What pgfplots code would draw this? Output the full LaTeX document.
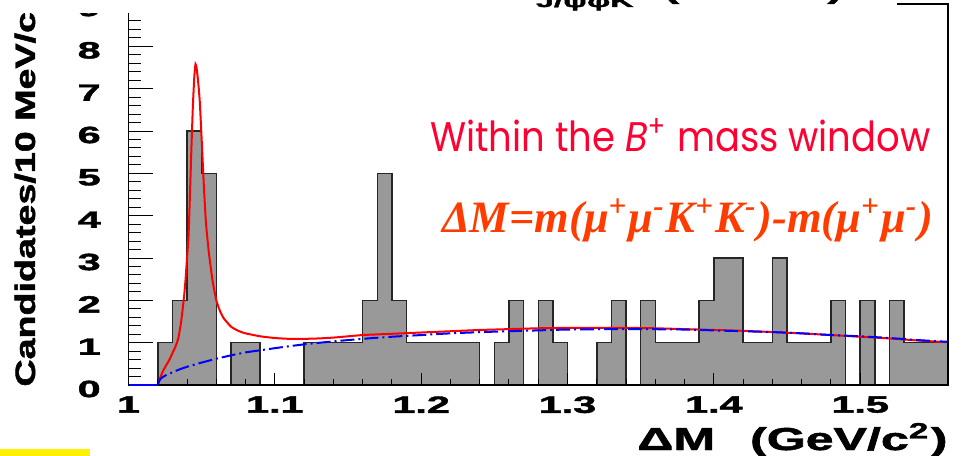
\documentclass[border=0pt]{standalone}
\usepackage{pgfplots}
\pgfplotsset{compat=1.18}
\usepackage{fontspec}
\setmainfont{Liberation Sans}
\newfontfamily\hv{Liberation Sans Bold}[FakeBold=1.5]
\newfontfamily\poppins{Poppins}
\newfontfamily\libserif{Liberation Serif}
\usepackage{graphicx}
\definecolor{histgray}{RGB}{153,153,153}
\definecolor{txtred}{RGB}{255,0,50}
\definecolor{txtorange}{RGB}{255,60,0}
\begin{document}
\begin{tikzpicture}
% ---------- plots ----------
\begin{axis}[
  name=pl, scale only axis, width=409.75pt, height=190.5pt,
  xmin=1, xmax=1.56, ymin=0, ymax=9, hide axis, clip=false]
\addplot[const plot, fill=histgray, draw=black!85, line width=0.75pt] coordinates {
(1.02,1)(1.03,2)(1.04,6)(1.05,5)(1.06,0)(1.07,1)(1.08,1)(1.09,0)(1.10,0)(1.11,0)
(1.12,1)(1.13,1)(1.14,1)(1.15,1)(1.16,2)(1.17,5)(1.18,2)(1.19,1)(1.20,1)(1.21,1)
(1.22,1)(1.23,1)(1.24,0)(1.25,1)(1.26,2)(1.27,0)(1.28,2)(1.29,1)(1.30,0)(1.31,0)
(1.32,1)(1.33,2)(1.34,0)(1.35,2)(1.36,1)(1.37,1)(1.38,1)(1.39,2)(1.40,3)(1.41,3)
(1.42,1)(1.43,1)(1.44,3)(1.45,1)(1.46,1)(1.47,1)(1.48,2)(1.49,0)(1.50,2)(1.51,0)
(1.52,2)(1.53,1)(1.54,1)(1.55,1)(1.56,1)} \closedcycle;
\addplot[red, line width=1pt, smooth, tension=0.3] coordinates {
(1.020,0.00)(1.022,0.20)(1.024,0.36)(1.026,0.48)(1.028,0.60)(1.030,0.75)
(1.032,0.90)(1.034,1.10)(1.036,1.50)(1.038,2.10)(1.039,2.50)(1.040,3.00)
(1.041,3.50)(1.042,4.50)(1.043,5.60)(1.044,6.60)(1.045,7.30)(1.0458,7.58)
(1.0465,7.50)(1.0475,7.20)(1.0487,6.70)(1.050,5.80)(1.0515,4.70)(1.053,3.80)
(1.055,3.10)(1.0575,2.45)(1.060,2.00)(1.0625,1.75)(1.065,1.58)(1.070,1.38)
(1.075,1.28)(1.080,1.22)(1.090,1.15)(1.100,1.11)(1.110,1.09)(1.120,1.09)
(1.130,1.10)(1.140,1.12)(1.150,1.15)(1.160,1.18)(1.180,1.21)(1.200,1.24)
(1.220,1.27)(1.240,1.30)(1.260,1.32)(1.280,1.34)(1.300,1.35)(1.320,1.35)
(1.340,1.35)(1.360,1.34)(1.380,1.32)(1.400,1.30)(1.420,1.28)(1.440,1.25)
(1.460,1.22)(1.480,1.18)(1.500,1.14)(1.520,1.10)(1.540,1.05)(1.560,1.01)};
\addplot[blue, line width=1pt, smooth, dash pattern=on 7pt off 2pt on 1pt off 2pt] coordinates {
(1.020,0)(1.021,0.10)(1.022,0.15)(1.025,0.22)(1.03,0.30)(1.035,0.37)(1.04,0.43)
(1.05,0.53)(1.06,0.62)(1.07,0.70)(1.08,0.77)(1.09,0.82)(1.10,0.87)(1.12,0.96)
(1.14,1.03)(1.16,1.09)(1.18,1.14)(1.20,1.18)(1.22,1.22)(1.25,1.26)(1.28,1.29)
(1.30,1.31)(1.33,1.32)(1.35,1.32)(1.38,1.31)(1.40,1.29)(1.42,1.27)(1.44,1.25)
(1.46,1.22)(1.48,1.18)(1.50,1.15)(1.52,1.11)(1.54,1.06)(1.56,1.02)};
\end{axis}
% ---------- frame, ticks ----------
\begin{axis}[
  name=ax, scale only axis, width=409.75pt, height=190.5pt,
  xmin=1, xmax=1.56, ymin=0, ymax=9, clip=false,
  tick pos=left,
  axis line style={line width=0.75pt, draw=black},
  xtick={1,1.1,1.2,1.3,1.4,1.5},
  xticklabels={1,1.1,1.2,1.3,1.4,1.5},
  ytick={0,1,2,3,4,5,6,7,8,9},
  yticklabels={0,1,2,3,4,5,6,7,8,9},
  minor x tick num=4, minor y tick num=4,
  xtick style={line width=0.5pt, black, /pgfplots/major tick length=6pt, /pgfplots/minor tick length=3pt},
  ytick style={line width=0.5pt, black, /pgfplots/major tick length=12pt, /pgfplots/minor tick length=6pt},
  ticklabel style={font=\fontsize{11.8pt}{11.8pt}\hv},
  xticklabel style={xscale=1.75, inner sep=0pt, anchor=north, yshift=-5.5pt},
  yticklabel style={xscale=1.75, inner sep=0pt, anchor=east, xshift=-7.75pt, yshift=-2pt},
]
\addplot[blue, line width=1pt] coordinates {(1.0,0)(1.02,0)};
\end{axis}
% ---------- texts ----------
\node[rotate=90, anchor=base west, inner sep=0pt] at ([xshift=-46.75pt,yshift=-1pt]ax.south west)
  {\scalebox{1.345}[1]{\fontsize{14pt}{14pt}\hv Candidates/10 MeV/c\textsuperscript{2}}};
\fill[white] ([xshift=-64.25pt,yshift=185.75pt]ax.south west) rectangle ([xshift=384.25pt,yshift=205pt]ax.south west);
\node[anchor=base west, inner sep=0pt] at ([xshift=183.25pt,yshift=193pt]ax.south west)
  {\scalebox{1.9}[1]{\fontsize{12pt}{12pt}\hv m\raisebox{-4pt}{\fontsize{8.5pt}{8.5pt}\selectfont J/ψφK}\hspace{8pt}(GeV/c\textsuperscript{2})}};
\node[anchor=base west, inner sep=0pt, text=txtred] at ([xshift=150.75pt,yshift=116.5pt]ax.south west)
  {\resizebox{250pt}{16.5pt}{\poppins Within the \textit{B}\textsuperscript{+} mass window}};
\node[anchor=base west, inner sep=0pt, text=txtorange] at ([xshift=156.6pt,yshift=76pt]ax.south west)
  {\resizebox{245.5pt}{17pt}{\libserif\bfseries\itshape ΔM=m(μ\textsuperscript{+}μ\textsuperscript{-}K\textsuperscript{+}K\textsuperscript{-})-m(μ\textsuperscript{+}μ\textsuperscript{-})}};
\node[anchor=base west, inner sep=0pt] at ([xshift=254.25pt,yshift=-32.5pt]ax.south west)
  {\resizebox{155pt}{13.5pt}{\hv ΔM\hspace{7pt}(GeV/c\textsuperscript{2})}};
\fill[yellow] ([xshift=-64.25pt,yshift=-32pt]ax.south west) rectangle ([xshift=-19.25pt,yshift=-40pt]ax.south west);
\pgfresetboundingbox
\useasboundingbox ([xshift=-64.25pt,yshift=-35pt]ax.south west) rectangle ([xshift=425.25pt,yshift=192.5pt]ax.south west);
\end{tikzpicture}
\end{document}
